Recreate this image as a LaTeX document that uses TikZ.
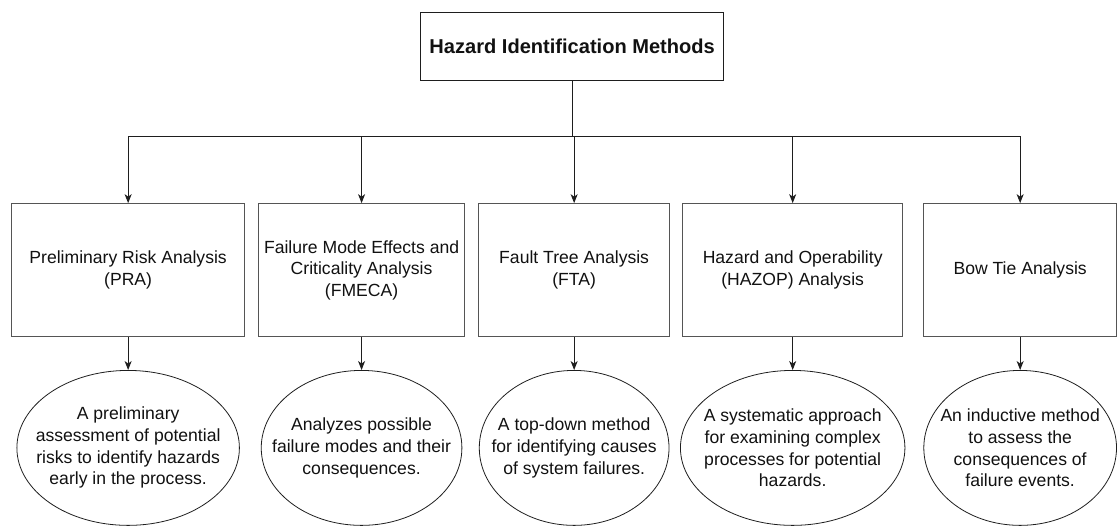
\documentclass[tikz,border=0pt]{standalone}
\usepackage{fontspec}
\setmainfont{Liberation Sans}
\usetikzlibrary{
  shapes.geometric,
  arrows.meta,
  positioning,
  calc
}
\definecolor{textprimary}{HTML}{111111}
\definecolor{border}{HTML}{555555}
\definecolor{arrowcolor}{HTML}{1E1E1E}
\newcommand{\bodyfont}{\fontsize{17.7}{21.8}\selectfont}
\tikzset{
  base/.style={
    text=textprimary,
    font=\bodyfont,
    align=center,
    inner sep=2pt,
  },
  headbox/.style={
    base,
    draw=arrowcolor,
    font=\fontsize{20.2}{24}\selectfont\bfseries,
    minimum width=305pt,
    minimum height=68pt,
    line width=1.1pt,
  },
  method/.style={
    base,
    draw=border,
    minimum width=#1,
    minimum height=134pt,
    line width=1pt,
  },
  desc/.style={
    base,
    ellipse,
    draw=arrowcolor,
    minimum width=#1,
    minimum height=156pt,
    inner xsep=-60pt,
    inner ysep=-40pt,
    line width=0.8pt,
  },
  flow/.style={
    -{Stealth[length=9pt, width=7pt, inset=2.5pt]},
    line width=1pt,
    draw=arrowcolor,
  },
  link/.style={
    line width=1pt,
    draw=arrowcolor,
  },
}

\begin{document}
\begin{tikzpicture}[x=1pt, y=1pt]

% === Page frame ===
\fill[white] (0,0) rectangle (1117,-530);

% === ROOT ===

\node[headbox] at (576,-47)
  (hazard) {Hazard Identification Methods};

% === ROW 1: Methods ===

\node[method=234pt] at (129,-272)
  (pra) {Preliminary Risk Analysis\\(PRA)};

\node[method=208pt, right=13pt of pra]
  (fmeca) {Failure Mode Effects and\\Criticality Analysis\\(FMECA)};

\node[method=192pt, right=13pt of fmeca]
  (fta) {Fault Tree Analysis\\(FTA)};

\node[method=222pt, right=12pt of fta]
  (hazop) {Hazard and Operability\\(HAZOP) Analysis};

\node[method=194pt, right=20pt of hazop]
  (bowtie) {Bow Tie Analysis};

% Root fan-out to methods
\coordinate (bus) at ($(hazard.south) + (0,-56)$);
\draw[link] (hazard.south) -- (bus);
\draw[flow] (bus) -| (pra.north);
\draw[flow] (bus) -| (fmeca.north);
\draw[flow] (bus) -| (fta.north);
\draw[flow] (bus) -| (hazop.north);
\draw[flow] (bus) -| (bowtie.north);

% === ROW 2: Descriptions ===

\node[desc=224pt, below=33pt of pra]
  (pradesc) {A preliminary\\assessment of potential\\risks to identify hazards\\early in the process.};

\node[desc=202pt, below=33pt of fmeca]
  (fmecadesc) {Analyzes possible\\failure modes and their\\consequences.};

\node[desc=191pt, below=33pt of fta]
  (ftadesc) {A top-down method\\for identifying causes\\of system failures.};

\node[desc=226pt, below=33pt of hazop]
  (hazopdesc) {A systematic approach\\for examining complex\\processes for potential\\hazards.};

\node[desc=194pt, below=33pt of bowtie]
  (bowtiedesc) {An inductive method\\to assess the\\consequences of\\failure events.};

\draw[flow] (pra) -- (pradesc);
\draw[flow] (fmeca) -- (fmecadesc);
\draw[flow] (fta) -- (ftadesc);
\draw[flow] (hazop) -- (hazopdesc);
\draw[flow] (bowtie) -- (bowtiedesc);

\useasboundingbox (0,0) rectangle (1117,-530);

\end{tikzpicture}
\end{document}
